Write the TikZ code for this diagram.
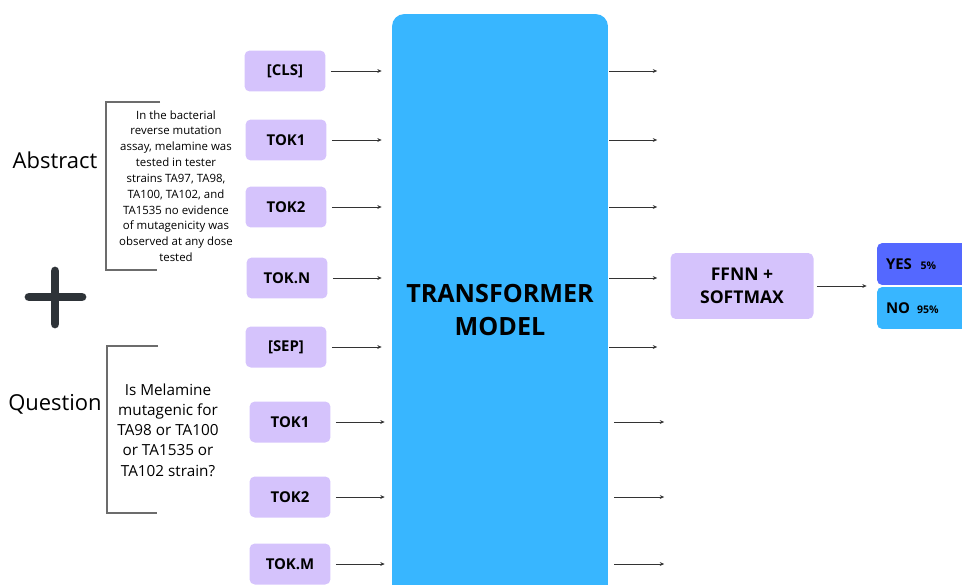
\documentclass[tikz,border=0pt]{standalone}
\usepackage{fontspec}
\setmainfont{Open Sans}
\usetikzlibrary{arrows.meta}
\definecolor{tokfill}{HTML}{D5C3FC}
\definecolor{tfmblue}{HTML}{38B6FF}
\definecolor{yesblue}{HTML}{5468FF}
\definecolor{plusdark}{HTML}{2E3338}
\definecolor{arrowgray}{HTML}{333333}
\tikzset{
  tok/.style={fill=tokfill, rounded corners=3pt, minimum width=1.62cm, minimum height=0.82cm,
              font=\fontsize{8.5}{10}\selectfont\bfseries, inner sep=0pt},
  tfm/.style={fill=tfmblue, rounded corners=7pt, minimum width=4.32cm, minimum height=11.84cm,
              align=center, font=\fontsize{14.3}{18.7}\selectfont\bfseries, inner sep=0pt},
  ffnnbox/.style={tok, minimum width=2.86cm, minimum height=1.32cm, align=center,
              font=\fontsize{10}{13}\selectfont\bfseries},
  prob/.style={rounded corners=3pt, minimum height=0.84cm, text width=1.84cm, inner xsep=0.18cm,
              inner ysep=0pt, align=left, font=\fontsize{8.5}{10}\selectfont\bfseries},
  arr/.style={-{Stealth[length=2.5pt,width=2.2pt]}, arrowgray, line width=0.5pt},
  brk/.style={draw=gray!85!black, line width=0.6pt},
  sidelabel/.style={font=\fontsize{12.5}{15}\selectfont},
  plus/.style={plusdark, line width=5pt, line cap=round},
}

\begin{document}
\begin{tikzpicture}[x=0.02cm, y=-0.02cm]
    \useasboundingbox (0,0) rectangle (962,584);
    \clip (0,0) rectangle (962,584);
    \node[sidelabel] (abslbl) at (55,160) {Abstract};
    \node[sidelabel] (qstlbl) at (55,404) {Question};
    \draw[plus] (29,297) -- (82,297) (55,271) -- (55,324);
    \draw[brk] (160,102) -| (106,270) -- (157,270);
    \draw[brk] (158,346) -| (107,513) -- (157,513);
    \node[align=center, inner sep=0pt, font=\fontsize{6.5}{9}\selectfont] (abs) at (176,186)
      {In the bacterial\\reverse mutation\\assay, melamine was\\tested in tester\\strains TA97, TA98,\\TA100, TA102, and\\TA1535 no evidence\\of mutagenicity was\\observed at any dose\\tested};
    \node[align=center, inner sep=0pt, font=\fontsize{8.7}{11.5}\selectfont] (qst) at (168,430)
      {Is Melamine\\mutagenic for\\TA98 or TA100\\or TA1535 or\\TA102 strain?};
    \node[tok] (t0) at (285,71) {[CLS]};
    \node[tok] (t1) at (286,140) {TOK1};
    \node[tok] (t2) at (286,207) {TOK2};
    \node[tok] (t3) at (287,278) {TOK.N};
    \node[tok] (t4) at (286,347) {[SEP]};
    \node[tok] (t5) at (290,422) {TOK1};
    \node[tok] (t6) at (290,497) {TOK2};
    \node[tok] (t7) at (290,564) {TOK.M};
    \node[tfm] (tfm) at (500,310) {TRANSFORMER\\MODEL};
    \node[ffnnbox] (ffnn) at (742,286) {FFNN +\\SOFTMAX};
    \node[prob, fill=yesblue] (yes) at (932,264) {YES\hspace{5pt}{\fontsize{6}{7}\selectfont 5\%}};
    \node[prob, fill=tfmblue] (no) at (932,308) {NO\hspace{4pt}{\fontsize{6}{7}\selectfont 95\%}};
    \draw[arr, shorten <=0.1cm, shorten >=0.2cm] (t0.east) -- (t0.east -| tfm.west);
    \draw[arr, shorten <=0.1cm, shorten >=0.2cm] (t1.east) -- (t1.east -| tfm.west);
    \draw[arr, shorten <=0.1cm, shorten >=0.2cm] (t2.east) -- (t2.east -| tfm.west);
    \draw[arr, shorten <=0.1cm, shorten >=0.2cm] (t3.east) -- (t3.east -| tfm.west);
    \draw[arr, shorten <=0.1cm, shorten >=0.2cm] (t4.east) -- (t4.east -| tfm.west);
    \draw[arr, shorten <=0.1cm, shorten >=0.14cm] (t5.east) -- (t5.east -| tfm.west);
    \draw[arr, shorten <=0.1cm, shorten >=0.14cm] (t6.east) -- (t6.east -| tfm.west);
    \draw[arr, shorten <=0.1cm, shorten >=0.14cm] (t7.east) -- (t7.east -| tfm.west);
    \draw[arr, shorten <=0.02cm, shorten >=0.26cm] (t0.east -| tfm.east) -- (t0.east -| ffnn.west);
    \draw[arr, shorten <=0.02cm, shorten >=0.26cm] (t1.east -| tfm.east) -- (t1.east -| ffnn.west);
    \draw[arr, shorten <=0.02cm, shorten >=0.26cm] (t2.east -| tfm.east) -- (t2.east -| ffnn.west);
    \draw[arr, shorten <=0.02cm, shorten >=0.26cm] (t3.east -| tfm.east) -- (t3.east -| ffnn.west);
    \draw[arr, shorten <=0.02cm, shorten >=0.26cm] (t4.east -| tfm.east) -- (t4.east -| ffnn.west);
    \draw[arr, shorten <=0.12cm, shorten >=0.12cm] (t5.east -| tfm.east) -- (t5.east -| ffnn.west);
    \draw[arr, shorten <=0.12cm, shorten >=0.12cm] (t6.east -| tfm.east) -- (t6.east -| ffnn.west);
    \draw[arr, shorten <=0.12cm, shorten >=0.12cm] (t7.east -| tfm.east) -- (t7.east -| ffnn.west);
    \draw[arr, shorten <=0.06cm, shorten >=0.2cm] (ffnn.east) -- (ffnn.east -| yes.west);
\end{tikzpicture}
\end{document}
